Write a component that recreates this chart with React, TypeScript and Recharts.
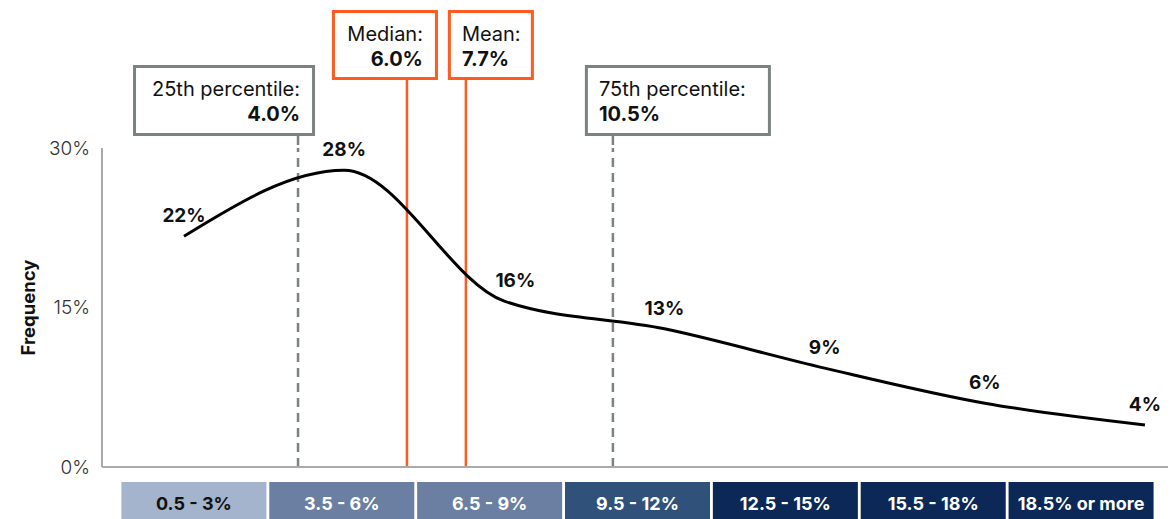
import { ComposedChart, Line, XAxis, YAxis, ReferenceLine, LabelList, Label } from 'recharts';

// rate bins along the bottom
const bins = ['0.5 - 3%', '3.5 - 6%', '6.5 - 9%', '9.5 - 12%', '12.5 - 15%', '15.5 - 18%', '18.5% or more'];
// share of observations per bin (%)
const frequency = [21.7, 27.9, 15.6, 13.0, 9.3, 6.0, 3.95];
const frequencyLabels = ['22%', '28%', '16%', '13%', '9%', '6%', '4%'];
const yTicks = [0, 15, 30];

// summary statistics, placed along the curve's axis (bin index units)
const markerNames = ['25th percentile:', 'Median:', 'Mean:', '75th percentile:'];
const markerValues = ['4.0%', '6.0%', '7.7%', '10.5%'];
const markerAt = [0.712, 1.392, 1.76, 2.678];

const ORANGE = '#ff5a1f';
const GREY = '#7b8382';
const AXIS = '#a9abab';
const FONT = 'Inter, "Noto Sans", sans-serif';

const binFill = ['#a3b4cc', '#6a7fa1', '#6a7fa1', '#30517a', '#0c2856', '#0c2856', '#0c2856'];
const binText = ['#111111', '#ffffff', '#ffffff', '#ffffff', '#ffffff', '#ffffff', '#ffffff'];

// box layout for each marker, relative to its line
const markerBox = [
  { color: GREY, dashed: true, left: -165, width: 182, top: 65, height: 71, align: 'end' },
  { color: ORANGE, dashed: false, left: -75, width: 106, top: 10, height: 70, align: 'end' },
  { color: ORANGE, dashed: false, left: -18, width: 86, top: 10, height: 70, align: 'start' },
  { color: GREY, dashed: true, left: -28, width: 186, top: 65, height: 71, align: 'start' },
];

const rows = bins.map((bin, i) => ({
  bin,
  pos: i,
  freq: frequency[i],
  label: frequencyLabels[i],
}));

function BinTick(props: any) {
  const { x, y, payload, index } = props;
  const w = 145;
  return (
    <g>
      <rect x={x - w / 2} y={y + 15} width={w} height={40} fill={binFill[index]} />
      <text
        x={x}
        y={y + 43}
        textAnchor="middle"
        fill={binText[index]}
        fontSize={18}
        fontWeight={700}
        fontFamily={FONT}
      >
        {payload.value}
      </text>
    </g>
  );
}

function FreqLabel(props: any) {
  const { x, y, value, index } = props;
  const nudge = index === 2 ? 11 : 0;
  return (
    <text
      x={x + nudge}
      y={y - 14}
      textAnchor="middle"
      fill="#111"
      fontSize={19}
      fontWeight={700}
      fontFamily={FONT}
    >
      {value}
    </text>
  );
}

function makeMarkerLabel(i: number) {
  return function MarkerLabel(props: any) {
    const vb = props.viewBox || {};
    const lx = vb.x;
    const plotTop = vb.y;
    const s = markerBox[i];
    const bx = lx + s.left;
    const tx = s.align === 'end' ? bx + s.width - 15 : bx + 14;
    return (
      <g>
        <line
          x1={lx}
          x2={lx}
          y1={s.top + s.height}
          y2={plotTop}
          stroke={s.color}
          strokeWidth={2.5}
          strokeDasharray={s.dashed ? '9 6' : undefined}
        />
        <rect
          x={bx + 1.5}
          y={s.top + 1.5}
          width={s.width - 3}
          height={s.height - 3}
          fill="#fff"
          stroke={s.color}
          strokeWidth={3}
        />
        <text x={tx} y={s.top + 31} textAnchor={s.align} fill="#111" fontSize={20} fontWeight={400} fontFamily={FONT}>
          {markerNames[i]}
        </text>
        <text x={tx} y={s.top + 56} textAnchor={s.align} fill="#111" fontSize={20} fontWeight={700} fontFamily={FONT}>
          {markerValues[i]}
        </text>
      </g>
    );
  };
}

function FrequencyTitle(props: any) {
  const vb = props.viewBox || {};
  const cy = vb.y + vb.height / 2;
  return (
    <text
      x={28}
      y={cy}
      transform={`rotate(-90, 28, ${cy})`}
      textAnchor="middle"
      dominantBaseline="central"
      fill="#111"
      fontSize={18.5}
      fontWeight={700}
      fontFamily={FONT}
    >
      Frequency
    </text>
  );
}

export default function App() {
  return (
    <div style={{ position: 'absolute', left: 0, top: 0, fontFamily: FONT, background: '#fff' }}>
      <ComposedChart
        width={1176}
        height={519}
        data={rows}
        margin={{ top: 148, right: 8, bottom: 0, left: 0 }}
      >
        <XAxis
          xAxisId="pos"
          dataKey="pos"
          type="number"
          domain={[-0.512, 6.144]}
          allowDataOverflow
          hide
        />
        <XAxis
          xAxisId="bin"
          dataKey="bin"
          type="category"
          scale="band"
          padding={{ left: 18, right: 13 }}
          height={52}
          interval={0}
          tickLine={false}
          tickSize={0}
          tickMargin={0}
          axisLine={{ stroke: AXIS, strokeWidth: 2 }}
          tick={<BinTick />}
        />
        <YAxis
          domain={[0, 30]}
          ticks={yTicks}
          width={102}
          tickFormatter={(v) => `${v}%`}
          tickLine={false}
          tickSize={0}
          tickMargin={12}
          axisLine={{ stroke: AXIS, strokeWidth: 2 }}
          tick={{ fill: '#333', fontSize: 19, fontWeight: 300, fontFamily: FONT }}
        >
          <Label content={<FrequencyTitle />} />
        </YAxis>
        {markerAt.map((m, i) => (
          <ReferenceLine
            key={markerNames[i]}
            xAxisId="pos"
            x={m}
            stroke={markerBox[i].color}
            strokeWidth={2.5}
            strokeDasharray={markerBox[i].dashed ? '9 6' : undefined}
            label={makeMarkerLabel(i)}
          />
        ))}
        <Line
          xAxisId="pos"
          dataKey="freq"
          type="monotone"
          stroke="#000"
          strokeWidth={3}
          dot={false}
          isAnimationActive={false}
        >
          <LabelList dataKey="label" content={<FreqLabel />} />
        </Line>
      </ComposedChart>
    </div>
  );
}
